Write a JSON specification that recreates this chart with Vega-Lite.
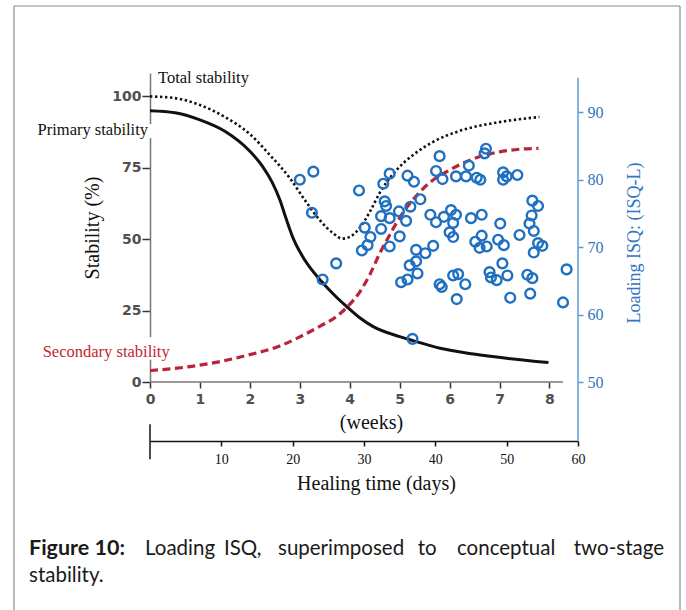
{
  "$schema": "https://vega.github.io/schema/vega-lite/v6.json",
  "width": 428,
  "height": 309,
  "autosize": {"type": "none"},
  "padding": {"left": 150, "top": 73, "right": 108, "bottom": 228},
  "background": "white",
  "config": {"view": {"stroke": null}},
  "datasets": {
    "curves": [
      {"series": "primary", "week": 0, "stab": 95},
      {"series": "primary", "week": 0.5, "stab": 94.3},
      {"series": "primary", "week": 1.0, "stab": 91.8},
      {"series": "primary", "week": 1.5, "stab": 87.8},
      {"series": "primary", "week": 2.0, "stab": 80.8},
      {"series": "primary", "week": 2.25, "stab": 75.6},
      {"series": "primary", "week": 2.45, "stab": 69.8},
      {"series": "primary", "week": 2.6, "stab": 63.8},
      {"series": "primary", "week": 2.72, "stab": 57.5},
      {"series": "primary", "week": 2.87, "stab": 50.2},
      {"series": "primary", "week": 3.1, "stab": 42.7},
      {"series": "primary", "week": 3.44, "stab": 35.1},
      {"series": "primary", "week": 3.7, "stab": 30.3},
      {"series": "primary", "week": 3.94, "stab": 26.4},
      {"series": "primary", "week": 4.2, "stab": 22.5},
      {"series": "primary", "week": 4.47, "stab": 19.4},
      {"series": "primary", "week": 5.0, "stab": 15.9},
      {"series": "primary", "week": 5.27, "stab": 14.5},
      {"series": "primary", "week": 5.81, "stab": 11.8},
      {"series": "primary", "week": 6.48, "stab": 9.8},
      {"series": "primary", "week": 7.14, "stab": 8.3},
      {"series": "primary", "week": 7.98, "stab": 6.8},
      {"series": "total", "week": 0, "stab": 100},
      {"series": "total", "week": 0.5, "stab": 99.4},
      {"series": "total", "week": 1.0, "stab": 97},
      {"series": "total", "week": 1.5, "stab": 92.8},
      {"series": "total", "week": 2.0, "stab": 86.8},
      {"series": "total", "week": 2.4, "stab": 79.5},
      {"series": "total", "week": 2.8, "stab": 71.4},
      {"series": "total", "week": 3.1, "stab": 63.7},
      {"series": "total", "week": 3.4, "stab": 56.7},
      {"series": "total", "week": 3.66, "stab": 52.2},
      {"series": "total", "week": 3.85, "stab": 50.2},
      {"series": "total", "week": 4.0, "stab": 50.8},
      {"series": "total", "week": 4.2, "stab": 54},
      {"series": "total", "week": 4.4, "stab": 59.5},
      {"series": "total", "week": 4.6, "stab": 66.2},
      {"series": "total", "week": 4.9, "stab": 73.5},
      {"series": "total", "week": 5.27, "stab": 79.5},
      {"series": "total", "week": 5.67, "stab": 84.1},
      {"series": "total", "week": 6.2, "stab": 87.9},
      {"series": "total", "week": 7.0, "stab": 91},
      {"series": "total", "week": 7.8, "stab": 92.8},
      {"series": "secondary", "week": 0, "stab": 4},
      {"series": "secondary", "week": 0.8, "stab": 5.4},
      {"series": "secondary", "week": 1.5, "stab": 7.5},
      {"series": "secondary", "week": 2.0, "stab": 9.6},
      {"series": "secondary", "week": 2.6, "stab": 12.6},
      {"series": "secondary", "week": 3.0, "stab": 15.8},
      {"series": "secondary", "week": 3.4, "stab": 19.5},
      {"series": "secondary", "week": 3.7, "stab": 22.5},
      {"series": "secondary", "week": 3.94, "stab": 26.1},
      {"series": "secondary", "week": 4.2, "stab": 31.5},
      {"series": "secondary", "week": 4.4, "stab": 37.5},
      {"series": "secondary", "week": 4.6, "stab": 45},
      {"series": "secondary", "week": 4.8, "stab": 51.5},
      {"series": "secondary", "week": 5.0, "stab": 57.5},
      {"series": "secondary", "week": 5.3, "stab": 64.5},
      {"series": "secondary", "week": 5.6, "stab": 69.8},
      {"series": "secondary", "week": 6.0, "stab": 74.2},
      {"series": "secondary", "week": 6.5, "stab": 78.3},
      {"series": "secondary", "week": 7.0, "stab": 80.6},
      {"series": "secondary", "week": 7.4, "stab": 81.5},
      {"series": "secondary", "week": 7.78, "stab": 81.8}
    ],
    "isq": [
      {"day": 21.0, "isq": 80.0}, {"day": 22.9, "isq": 81.2}, {"day": 22.7, "isq": 75.1},
      {"day": 29.3, "isq": 78.4}, {"day": 26.1, "isq": 67.6}, {"day": 24.2, "isq": 65.2},
      {"day": 36.8, "isq": 56.4}, {"day": 33.6, "isq": 80.9}, {"day": 32.7, "isq": 79.4},
      {"day": 36.1, "isq": 80.6}, {"day": 37.0, "isq": 79.7}, {"day": 32.9, "isq": 76.8},
      {"day": 33.1, "isq": 76.1}, {"day": 32.4, "isq": 74.6}, {"day": 33.6, "isq": 74.3},
      {"day": 34.9, "isq": 75.3}, {"day": 36.5, "isq": 76.0}, {"day": 37.9, "isq": 77.1},
      {"day": 35.9, "isq": 73.9}, {"day": 32.4, "isq": 72.7}, {"day": 35.0, "isq": 71.6},
      {"day": 30.1, "isq": 72.9}, {"day": 30.9, "isq": 71.5}, {"day": 30.5, "isq": 70.3},
      {"day": 29.7, "isq": 69.5}, {"day": 33.6, "isq": 70.1}, {"day": 37.3, "isq": 69.6},
      {"day": 38.6, "isq": 69.1}, {"day": 39.7, "isq": 70.2}, {"day": 37.3, "isq": 67.9},
      {"day": 36.4, "isq": 67.3}, {"day": 37.5, "isq": 66.1}, {"day": 36.1, "isq": 65.2},
      {"day": 35.2, "isq": 64.8}, {"day": 40.1, "isq": 81.3}, {"day": 40.6, "isq": 83.5},
      {"day": 47.1, "isq": 84.6}, {"day": 46.9, "isq": 83.9}, {"day": 44.7, "isq": 82.1},
      {"day": 41.0, "isq": 80.1}, {"day": 42.9, "isq": 80.5}, {"day": 44.3, "isq": 80.5},
      {"day": 45.8, "isq": 80.3}, {"day": 46.3, "isq": 80.0}, {"day": 49.5, "isq": 81.1},
      {"day": 49.5, "isq": 80.0}, {"day": 50.0, "isq": 80.5}, {"day": 51.5, "isq": 80.7},
      {"day": 39.3, "isq": 74.8}, {"day": 40.1, "isq": 73.7}, {"day": 41.2, "isq": 74.5},
      {"day": 42.2, "isq": 75.5}, {"day": 42.9, "isq": 74.8}, {"day": 42.5, "isq": 73.6},
      {"day": 42.0, "isq": 72.2}, {"day": 42.5, "isq": 71.5}, {"day": 45.0, "isq": 74.3},
      {"day": 46.5, "isq": 74.8}, {"day": 49.1, "isq": 73.5}, {"day": 53.6, "isq": 76.9},
      {"day": 54.4, "isq": 76.1}, {"day": 53.5, "isq": 74.7}, {"day": 53.2, "isq": 73.5},
      {"day": 53.8, "isq": 72.4}, {"day": 51.8, "isq": 71.8}, {"day": 45.6, "isq": 70.8},
      {"day": 46.5, "isq": 71.7}, {"day": 46.2, "isq": 69.9}, {"day": 47.2, "isq": 70.1},
      {"day": 48.8, "isq": 71.1}, {"day": 49.6, "isq": 70.3}, {"day": 54.4, "isq": 70.6},
      {"day": 55.0, "isq": 70.2}, {"day": 53.8, "isq": 69.2}, {"day": 40.6, "isq": 64.5},
      {"day": 40.9, "isq": 64.1}, {"day": 42.5, "isq": 65.8}, {"day": 43.2, "isq": 66.0},
      {"day": 44.2, "isq": 64.5}, {"day": 43.0, "isq": 62.3}, {"day": 47.6, "isq": 66.3},
      {"day": 47.8, "isq": 65.5}, {"day": 48.6, "isq": 65.1}, {"day": 50.1, "isq": 65.8},
      {"day": 49.4, "isq": 67.6}, {"day": 50.5, "isq": 62.5}, {"day": 52.9, "isq": 65.9},
      {"day": 53.6, "isq": 65.4}, {"day": 53.3, "isq": 63.1}, {"day": 58.4, "isq": 66.7},
      {"day": 57.9, "isq": 61.8}
    ]
  },
  "layer": [
    {
      "layer": [
        {
          "data": {"name": "curves"},
          "transform": [{"filter": "datum.series === 'primary'"}],
          "mark": {"type": "line", "interpolate": "monotone", "color": "#111111", "strokeWidth": 3},
          "encoding": {
            "x": {"field": "week", "type": "quantitative",
              "scale": {"domain": [0, 8.5714], "nice": false, "zero": false},
              "axis": {"orient": "bottom", "values": [0, 1, 2, 3, 4, 5, 6, 7, 8], "domain": false, "grid": false,
                "ticks": true, "tickSize": 6, "tickColor": "#333333", "tickWidth": 1.5,
                "labelFont": "DejaVu Sans", "labelFontWeight": "bold", "labelFontSize": 14, "labelColor": "#505050",
                "labelPadding": 4, "labelFlush": false, "format": "d",
                "title": "(weeks)", "titleFont": "Liberation Serif", "titleFontSize": 20, "titleFontWeight": "normal",
                "titleColor": "#111111", "titlePadding": 6, "titleX": 221}},
            "y": {"field": "stab", "type": "quantitative",
              "scale": {"domain": [0, 108.2], "nice": false, "zero": false},
              "axis": {"orient": "left", "values": [0, 25, 50, 75, 100], "grid": false,
                "domain": true, "domainColor": "#777777", "domainWidth": 1.5,
                "tickSize": 8, "tickColor": "#333333", "tickWidth": 1.5,
                "labelFont": "DejaVu Sans", "labelFontWeight": "bold", "labelFontSize": 14, "labelColor": "#505050",
                "labelPadding": 1, "format": "d",
                "title": "Stability (%)", "titleFont": "Liberation Serif", "titleFontSize": 20, "titleFontWeight": "normal",
                "titleColor": "#111111", "titlePadding": 9}}
          }
        },
        {
          "data": {"name": "curves"},
          "transform": [{"filter": "datum.series === 'total'"}],
          "mark": {"type": "line", "interpolate": "monotone", "color": "#111111", "strokeWidth": 2.6, "strokeDash": [2.4, 2.6]},
          "encoding": {
            "x": {"field": "week", "type": "quantitative", "scale": {"domain": [0, 8.5714], "nice": false, "zero": false}},
            "y": {"field": "stab", "type": "quantitative", "scale": {"domain": [0, 108.2], "nice": false, "zero": false}}
          }
        },
        {
          "data": {"name": "curves"},
          "transform": [{"filter": "datum.series === 'secondary'"}],
          "mark": {"type": "line", "interpolate": "monotone", "color": "#b8243a", "strokeWidth": 3.2, "strokeDash": [8, 4.5]},
          "encoding": {
            "x": {"field": "week", "type": "quantitative", "scale": {"domain": [0, 8.5714], "nice": false, "zero": false}},
            "y": {"field": "stab", "type": "quantitative", "scale": {"domain": [0, 108.2], "nice": false, "zero": false}}
          }
        },
        {
          "data": {"values": [{}]},
          "mark": {"type": "rule", "color": "#777777", "strokeWidth": 1.5},
          "encoding": {
            "x": {"datum": 0, "type": "quantitative", "scale": {"domain": [0, 8.5714], "nice": false, "zero": false}},
            "x2": {"datum": 8.27},
            "y": {"datum": 0, "type": "quantitative", "scale": {"domain": [0, 108.2], "nice": false, "zero": false}}
          }
        },
        {
          "data": {"values": [{}]},
          "mark": {"type": "rect", "fill": "white", "stroke": null},
          "encoding": {
            "x": {"datum": -0.2, "type": "quantitative", "scale": {"domain": [0, 8.5714], "nice": false, "zero": false}},
            "x2": {"datum": 0.05},
            "y": {"datum": 90.3, "type": "quantitative", "scale": {"domain": [0, 108.2], "nice": false, "zero": false}},
            "y2": {"datum": 85.4}
          }
        },
        {
          "data": {"values": [{}]},
          "mark": {"type": "rect", "fill": "white", "stroke": null},
          "encoding": {
            "x": {"datum": -0.2, "type": "quantitative", "scale": {"domain": [0, 8.5714], "nice": false, "zero": false}},
            "x2": {"datum": 0.05},
            "y": {"datum": 15.7, "type": "quantitative", "scale": {"domain": [0, 108.2], "nice": false, "zero": false}},
            "y2": {"datum": 7.8}
          }
        },
        {
          "data": {"values": [{}]},
          "mark": {"type": "rule", "color": "#8c8c8c", "strokeWidth": 1.2},
          "encoding": {
            "x": {"datum": -2.7236, "type": "quantitative", "scale": {"domain": [0, 8.5714], "nice": false, "zero": false}},
            "y": {"datum": 131.66, "type": "quantitative", "scale": {"domain": [0, 108.2], "nice": false, "zero": false}},
            "y2": {"datum": -85}
          }
        },
        {
          "data": {"values": [{}]},
          "mark": {"type": "rule", "color": "#8c8c8c", "strokeWidth": 1.2},
          "encoding": {
            "x": {"datum": 10.614, "type": "quantitative", "scale": {"domain": [0, 8.5714], "nice": false, "zero": false}},
            "y": {"datum": 131.66, "type": "quantitative", "scale": {"domain": [0, 108.2], "nice": false, "zero": false}},
            "y2": {"datum": -85}
          }
        },
        {
          "data": {"values": [{}]},
          "mark": {"type": "rule", "color": "#8c8c8c", "strokeWidth": 1.2},
          "encoding": {
            "x": {"datum": -2.7236, "type": "quantitative", "scale": {"domain": [0, 8.5714], "nice": false, "zero": false}},
            "x2": {"datum": 10.614},
            "y": {"datum": 131.66, "type": "quantitative", "scale": {"domain": [0, 108.2], "nice": false, "zero": false}}
          }
        },
        {
          "data": {"values": [{}]},
          "mark": {"type": "text", "text": "Total stability", "font": "Liberation Serif", "fontSize": 16.5, "color": "#111111", "align": "left", "baseline": "middle"},
          "encoding": {
            "x": {"datum": 0.16, "type": "quantitative", "scale": {"domain": [0, 8.5714], "nice": false, "zero": false}},
            "y": {"datum": 106.45, "type": "quantitative", "scale": {"domain": [0, 108.2], "nice": false, "zero": false}}
          }
        },
        {
          "data": {"values": [{}]},
          "mark": {"type": "text", "text": "Primary stability", "font": "Liberation Serif", "fontSize": 16.5, "color": "#111111", "align": "right", "baseline": "middle"},
          "encoding": {
            "x": {"datum": -0.04, "type": "quantitative", "scale": {"domain": [0, 8.5714], "nice": false, "zero": false}},
            "y": {"datum": 88.24, "type": "quantitative", "scale": {"domain": [0, 108.2], "nice": false, "zero": false}}
          }
        },
        {
          "data": {"values": [{}]},
          "mark": {"type": "text", "text": "Secondary stability", "font": "Liberation Serif", "fontSize": 16.5, "color": "#c0272d", "align": "left", "baseline": "middle"},
          "encoding": {
            "x": {"datum": -2.1489, "type": "quantitative", "scale": {"domain": [0, 8.5714], "nice": false, "zero": false}},
            "y": {"datum": 10.61, "type": "quantitative", "scale": {"domain": [0, 108.2], "nice": false, "zero": false}}
          }
        },
        {
          "data": {"values": [{}]},
          "mark": {"type": "text", "text": "Figure 10:", "font": "Lato", "fontWeight": "bold", "fontSize": 21.5, "color": "#1a1a1a", "align": "left", "baseline": "middle"},
          "encoding": {
            "x": {"datum": -2.4232, "type": "quantitative", "scale": {"domain": [0, 8.5714], "nice": false, "zero": false}},
            "y": {"datum": -58.65, "type": "quantitative", "scale": {"domain": [0, 108.2], "nice": false, "zero": false}}
          }
        },
        {
          "data": {"values": [{}]},
          "mark": {"type": "text", "text": "Loading", "font": "Lato", "fontSize": 20.5, "color": "#1a1a1a", "align": "left", "baseline": "middle"},
          "encoding": {
            "x": {"datum": -0.1001, "type": "quantitative", "scale": {"domain": [0, 8.5714], "nice": false, "zero": false}},
            "y": {"datum": -58.65, "type": "quantitative", "scale": {"domain": [0, 108.2], "nice": false, "zero": false}}
          }
        },
        {
          "data": {"values": [{}]},
          "mark": {"type": "text", "text": "ISQ,", "font": "Lato", "fontSize": 20.5, "color": "#1a1a1a", "align": "left", "baseline": "middle"},
          "encoding": {
            "x": {"datum": 1.482, "type": "quantitative", "scale": {"domain": [0, 8.5714], "nice": false, "zero": false}},
            "y": {"datum": -58.65, "type": "quantitative", "scale": {"domain": [0, 108.2], "nice": false, "zero": false}}
          }
        },
        {
          "data": {"values": [{}]},
          "mark": {"type": "text", "text": "superimposed", "font": "Lato", "fontSize": 20.5, "color": "#1a1a1a", "align": "left", "baseline": "middle"},
          "encoding": {
            "x": {"datum": 2.5634, "type": "quantitative", "scale": {"domain": [0, 8.5714], "nice": false, "zero": false}},
            "y": {"datum": -58.65, "type": "quantitative", "scale": {"domain": [0, 108.2], "nice": false, "zero": false}}
          }
        },
        {
          "data": {"values": [{}]},
          "mark": {"type": "text", "text": "to", "font": "Lato", "fontSize": 20.5, "color": "#1a1a1a", "align": "left", "baseline": "middle"},
          "encoding": {
            "x": {"datum": 5.3632, "type": "quantitative", "scale": {"domain": [0, 8.5714], "nice": false, "zero": false}},
            "y": {"datum": -58.65, "type": "quantitative", "scale": {"domain": [0, 108.2], "nice": false, "zero": false}}
          }
        },
        {
          "data": {"values": [{}]},
          "mark": {"type": "text", "text": "conceptual", "font": "Lato", "fontSize": 20.5, "color": "#1a1a1a", "align": "left", "baseline": "middle"},
          "encoding": {
            "x": {"datum": 6.1482, "type": "quantitative", "scale": {"domain": [0, 8.5714], "nice": false, "zero": false}},
            "y": {"datum": -58.65, "type": "quantitative", "scale": {"domain": [0, 108.2], "nice": false, "zero": false}}
          }
        },
        {
          "data": {"values": [{}]},
          "mark": {"type": "text", "text": "two-stage", "font": "Lato", "fontSize": 20.5, "color": "#1a1a1a", "align": "right", "baseline": "middle"},
          "encoding": {
            "x": {"datum": 10.2938, "type": "quantitative", "scale": {"domain": [0, 8.5714], "nice": false, "zero": false}},
            "y": {"datum": -58.65, "type": "quantitative", "scale": {"domain": [0, 108.2], "nice": false, "zero": false}}
          }
        },
        {
          "data": {"values": [{}]},
          "mark": {"type": "text", "text": "stability.", "font": "Lato", "fontSize": 20.5, "color": "#1a1a1a", "align": "left", "baseline": "middle"},
          "encoding": {
            "x": {"datum": -2.4232, "type": "quantitative", "scale": {"domain": [0, 8.5714], "nice": false, "zero": false}},
            "y": {"datum": -68.1, "type": "quantitative", "scale": {"domain": [0, 108.2], "nice": false, "zero": false}}
          }
        }
      ]
    },
    {
      "layer": [
        {
          "data": {"name": "isq"},
          "mark": {"type": "point", "shape": "circle", "filled": false, "stroke": "#1f70c1", "strokeWidth": 2.4, "size": 95, "opacity": 1},
          "encoding": {
            "x": {"field": "day", "type": "quantitative",
              "scale": {"domain": [0, 60], "nice": false, "zero": false},
              "axis": {"orient": "bottom", "offset": 59, "values": [10, 20, 30, 40, 50, 60], "grid": false,
                "domain": true, "domainColor": "#111111", "domainWidth": 1.5,
                "tickSize": 5, "tickColor": "#111111", "tickWidth": 1.5,
                "labelFont": "Liberation Serif", "labelFontSize": 14, "labelColor": "#111111", "labelPadding": 6, "labelFlush": false,
                "title": "Healing time (days)", "titleFont": "Liberation Serif", "titleFontSize": 20, "titleFontWeight": "normal",
                "titleColor": "#111111", "titlePadding": 7, "titleX": 226}},
            "y": {"field": "isq", "type": "quantitative",
              "scale": {"domain": [50, 95.83], "nice": false, "zero": false},
              "axis": {"orient": "right", "values": [50, 60, 70, 80, 90], "grid": false, "domain": false,
                "tickSize": 5, "tickColor": "#5b9bd5", "tickWidth": 1.5,
                "labelFont": "Liberation Serif", "labelFontSize": 16, "labelColor": "#2f75c0", "labelPadding": 4,
                "title": "Loading ISQ: (ISQ-L)", "titleFont": "Liberation Serif", "titleFontSize": 18, "titleFontWeight": "normal",
                "titleColor": "#2f75c0", "titleAngle": 270, "titlePadding": 40, "titleY": 169.5}}
          }
        },
        {
          "data": {"values": [{}]},
          "mark": {"type": "rule", "color": "#5b9bd5", "strokeWidth": 1.5},
          "encoding": {
            "x": {"datum": 60, "type": "quantitative", "scale": {"domain": [0, 60], "nice": false, "zero": false}},
            "y": {"datum": 95.14, "type": "quantitative", "scale": {"domain": [50, 95.83], "nice": false, "zero": false}},
            "y2": {"datum": 41.29}
          }
        },
        {
          "data": {"values": [{}]},
          "mark": {"type": "rule", "color": "#111111", "strokeWidth": 1.5},
          "encoding": {
            "x": {"datum": 0, "type": "quantitative", "scale": {"domain": [0, 60], "nice": false, "zero": false}},
            "y": {"datum": 43.73, "type": "quantitative", "scale": {"domain": [50, 95.83], "nice": false, "zero": false}},
            "y2": {"datum": 38.55}
          }
        }
      ]
    }
  ],
  "resolve": {"scale": {"x": "independent", "y": "independent"}}
}
